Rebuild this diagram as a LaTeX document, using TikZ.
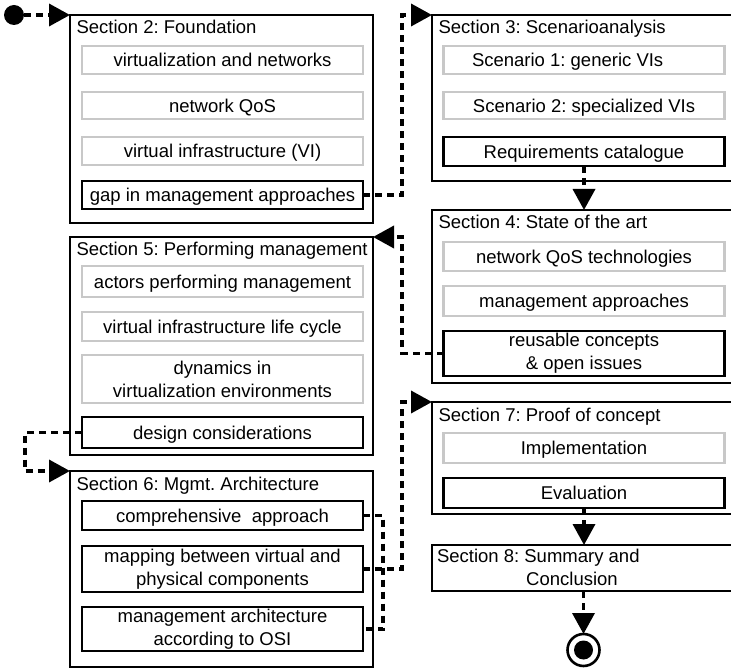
\documentclass[tikz,border=0pt]{standalone}
\usepackage{fontspec}
\setmainfont{Liberation Sans}
\usetikzlibrary{arrows.meta}
\definecolor{boxgray}{RGB}{200,200,200}
\frenchspacing

\begin{document}
\begin{tikzpicture}[x=1pt,y=-1pt,
  every node/.style={font=\fontsize{18.5}{23}\selectfont, inner sep=0pt, outer sep=0pt},
  section/.style={draw, line width=2.4pt, minimum width=303pt},
  title/.style={anchor=base west},
  item/.style={line width=2.4pt, minimum width=281pt, align=center},
  plain/.style={item, draw=boxgray},
  key/.style={item, draw=black, line width=2.8pt},
  one/.style={text height=13.5pt, text depth=0pt},
  link/.style={line width=3.6pt, dash pattern=on 7pt off 5pt},
  flow/.style={link, -{Triangle[length=21pt,width=22pt]}},
]
\useasboundingbox (0,0) rectangle (731,668);
\clip (0,0) rectangle (731,668);

% Section 2
\node[section, minimum height=208pt] (s2) at (221.5,119) {};
\node[title] (t2) at (76.5,33.5) {Section 2: Foundation};
\node[plain, one, minimum height=28pt] (vn)  at (222.5,60)    {virtualization and networks};
\node[plain, one, minimum height=27pt] (qos) at (222.5,105.5) {network QoS};
\node[plain, one, minimum height=28pt] (vi)  at (222.5,151)   {virtual infrastructure (VI)};
\node[key,   one, minimum height=28pt] (gap) at (222.5,195)   {gap in management approaches};

% Section 3
\node[section, minimum height=166pt] (s3) at (583.5,98) {};
\node[title] (t3) at (438.5,33.5) {Section 3: Scenarioanalysis};
\node[plain, one, minimum height=28pt] (sc1) at (584,60)    {\makebox[224pt][l]{Scenario 1: generic VIs}};
\node[plain, one, minimum height=27pt] (sc2) at (584,105.5) {Scenario 2: specialized VIs};
\node[key,   one, minimum height=29pt] (req) at (584,151.5) {Requirements catalogue};

% Section 4
\node[section, minimum height=173pt] (s4) at (583.5,296.5) {};
\node[title] (t4) at (438.5,228.5) {Section 4: State of the art};
\node[plain, one, minimum height=29pt] (nqt)   at (584,256.5) {network QoS technologies};
\node[plain, one, minimum height=30pt] (ma)    at (584,301)   {management approaches};
\node[key,        minimum height=45pt] (reuse) at (584,353.5) {reusable concepts\\\& open issues};

% Section 5
\node[section, minimum height=218pt] (s5) at (221.5,346) {};
\node[title] (t5) at (76.5,256) {Section 5: Performing management};
\node[plain, one, minimum height=31pt] (actors) at (222.5,281.5) {actors performing management};
\node[plain, one, minimum height=29pt] (life)   at (222.5,326.5) {virtual infrastructure life cycle};
\node[plain,      minimum height=48pt] (dyn)    at (222.5,379)   {dynamics in\\virtualization environments};
\node[key,   one, minimum height=31pt] (design) at (222.5,432.5) {design considerations};

% Section 6
\node[section, minimum height=196pt] (s6) at (221.5,569) {};
\node[title] (t6) at (76.5,490) {Section 6: Mgmt. Architecture};
\node[key, one, minimum height=29pt] (comp) at (222.5,515.5) {comprehensive\ \ approach};
\node[key,      minimum height=46pt] (map)  at (222.5,569)   {mapping between virtual and\\physical components};
\node[key,      minimum height=44pt] (mgmt) at (222.5,629)   {management architecture\\according to OSI};

% Section 7
\node[section, minimum height=112pt] (s7) at (583.5,458) {};
\node[title] (t7) at (438.5,421) {Section 7: Proof of concept};
\node[plain, one, minimum height=30pt] (impl) at (584,448) {Implementation};
\node[key,   one, minimum height=30pt] (eval) at (584,493) {Evaluation};

% Section 8
\node[section, minimum height=46pt] (s8) at (583.5,568) {};
\node[title] (t8a) at (437,562) {Section 8: Summary and};
\node[anchor=base] (t8b) at (572,585) {Conclusion};

% start and end markers
\node[circle, fill, minimum size=20pt] (start) at (14,15) {};
\node[circle, draw, line width=2.6pt, minimum size=32pt] (end) at (583.5,650) {};
\node[circle, fill, minimum size=19pt] (endcore) at (end.center) {};

% routing lanes
\coordinate (laneA) at (402,0);
\coordinate (laneB) at (25,0);
\coordinate (laneC) at (383,0);

% connectors
\draw[flow] (start) -- (s2.north west);
\draw[flow] (gap.east) -- (gap.east -| laneA) |- (s3.north west);
\draw[flow] (req.south) -- (req.south |- s4.north);
\draw[flow] (reuse.west) -- (reuse.west -| laneA) |- (s5.north east);
\draw[flow] (design.west) -- (design.west -| laneB) |- (s6.north west);
\draw[link] (comp.east) -- (comp.east -| laneC) -- (mgmt.east -| laneC) -- (mgmt.east);
\draw[flow] (map.east) -- (map.east -| laneA) |- (s7.north west);
\draw[flow] (eval.south) -- (eval.south |- s8.north);
\draw[flow] (s8.south) -- (end.north);
\end{tikzpicture}
\end{document}
